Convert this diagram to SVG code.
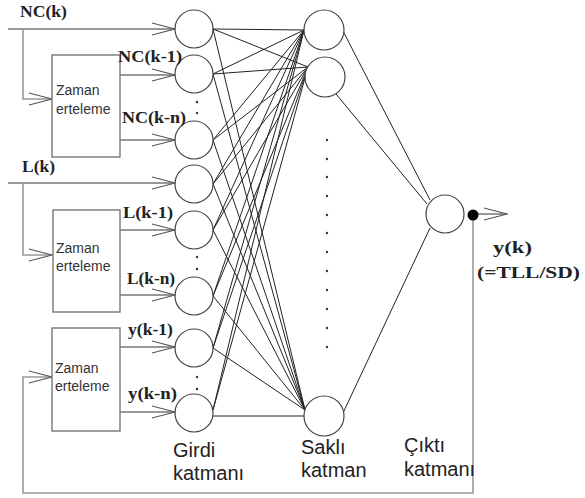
<svg xmlns="http://www.w3.org/2000/svg" width="585" height="498" viewBox="0 0 585 498">
  <defs>
    <marker id="open" markerUnits="userSpaceOnUse" markerWidth="30" markerHeight="16" viewBox="-25 -8 27 16" refX="0" refY="0" orient="auto">
      <path d="M-23,-6 L0,0 L-23,6" fill="none" stroke="#555" stroke-width="1.1"/>
    </marker>
  </defs>
  <style>
    .node { fill: #fff; stroke: #444; stroke-width: 1.2; }
    .box { fill: #fff; stroke: #777; stroke-width: 1.4; }
    .w { stroke: #222; stroke-width: 1; fill: none; }
    .feed { stroke: #999; stroke-width: 1.6; fill: none; }
    .in { stroke: #333; stroke-width: 1.2; fill: none; }
    .lbl { font-family: "Liberation Serif", "Times New Roman", serif; font-weight: bold; font-size: 17px; fill: #222; }
    .dly { font-family: "Liberation Sans", Arial, sans-serif; font-size: 14px; fill: #333; }
    .layer { font-family: "Liberation Sans", Arial, sans-serif; font-size: 20px; fill: #222; }
    .dot { fill: #333; }
  </style>

  <rect width="585" height="498" fill="#fff"/>

  <!-- connectors -->
  <g id="connectors">
    <!-- input layer to hidden layer -->
    <g class="w">
      <path d="M213,29 L304,30 M213,29 L308,67 M213,29 L305,410"/>
      <path d="M213,74 L304,30 M213,74 L308,67 M213,74 L305,410"/>
      <path d="M213,140 L304,30 M213,140 L308,67 M213,140 L305,410"/>
      <path d="M213,184 L304,30 M213,184 L308,67 M213,184 L305,410"/>
      <path d="M213,230 L304,30 M213,230 L308,67 M213,230 L305,410"/>
      <path d="M213,296 L304,30 M213,296 L308,67 M213,296 L305,410"/>
      <path d="M213,348 L304,30 M213,348 L308,67 M213,348 L305,410"/>
      <path d="M213,410 L304,30 M213,410 L308,67 M213,416 L304,416"/>
      <!-- hidden layer to output -->
      <path d="M343,31 L430,200 M336,94 L427,204 M343,413 L430,228"/>
    </g>
    <!-- external inputs -->
    <g class="in">
      <path d="M8,29 L175,29" marker-end="url(#open)"/>
      <path d="M120,75 L175,75" marker-end="url(#open)"/>
      <path d="M120,140 L175,140" marker-end="url(#open)"/>
      <path d="M8,183 L175,183" marker-end="url(#open)"/>
      <path d="M120,230 L175,230" marker-end="url(#open)"/>
      <path d="M120,295 L175,295" marker-end="url(#open)"/>
      <path d="M120,347 L175,347" marker-end="url(#open)"/>
      <path d="M120,412 L175,412" marker-end="url(#open)"/>
    </g>
    <!-- taps into delay blocks and output feedback -->
    <g class="feed">
      <path d="M23,29 L23,99 L52,99" marker-end="url(#open)"/>
      <path d="M23,183 L23,255 L52,255" marker-end="url(#open)"/>
      <path d="M473,215 L473,493 L23,493 L23,377 L52,377" marker-end="url(#open)"/>
    </g>
    <path d="M473,214 L507,214" class="in" marker-end="url(#open)"/>
    <circle cx="473" cy="215" r="5.5" fill="#000"/>
  </g>

  <!-- delay blocks -->
  <g id="delay-nc">
    <rect class="box" x="52" y="55" width="68" height="102"/>
    <text class="dly" x="56" y="95">Zaman</text>
    <text class="dly" x="56" y="114">erteleme</text>
  </g>
  <g id="delay-l">
    <rect class="box" x="53" y="210" width="67" height="102"/>
    <text class="dly" x="56" y="253">Zaman</text>
    <text class="dly" x="56" y="271">erteleme</text>
  </g>
  <g id="delay-y">
    <rect class="box" x="52" y="328" width="68" height="103"/>
    <text class="dly" x="55" y="373">Zaman</text>
    <text class="dly" x="55" y="391">erteleme</text>
  </g>

  <!-- input layer -->
  <g id="in1"><circle class="node" cx="194" cy="29" r="19"/></g>
  <g id="in2"><circle class="node" cx="194" cy="74" r="19"/></g>
  <g id="in3"><circle class="node" cx="194" cy="140" r="19"/></g>
  <g id="in4"><circle class="node" cx="194" cy="184" r="19"/></g>
  <g id="in5"><circle class="node" cx="194" cy="230" r="19"/></g>
  <g id="in6"><circle class="node" cx="194" cy="296" r="19"/></g>
  <g id="in7"><circle class="node" cx="194" cy="348" r="19"/></g>
  <g id="in8"><circle class="node" cx="194" cy="413" r="19"/></g>
  <g id="in-dots" class="dot">
    <circle cx="197" cy="102" r="1.2"/><circle cx="197" cy="113" r="1.2"/>
    <circle cx="197" cy="257" r="1.2"/><circle cx="197" cy="269" r="1.2"/>
    <circle cx="197" cy="377" r="1.2"/><circle cx="197" cy="389" r="1.2"/>
  </g>

  <!-- hidden layer -->
  <g id="h1"><circle class="node" cx="324" cy="30" r="20"/></g>
  <g id="h2"><circle class="node" cx="325" cy="77" r="20"/></g>
  <g id="h3"><circle class="node" cx="324" cy="416" r="20"/></g>
  <g id="hidden-dots" class="dot">
    <circle cx="327" cy="140" r="1.2"/><circle cx="327" cy="159" r="1.2"/>
    <circle cx="327" cy="177" r="1.2"/><circle cx="327" cy="196" r="1.2"/>
    <circle cx="327" cy="215" r="1.2"/><circle cx="327" cy="233" r="1.2"/>
    <circle cx="327" cy="252" r="1.2"/><circle cx="327" cy="271" r="1.2"/>
    <circle cx="327" cy="290" r="1.2"/><circle cx="327" cy="309" r="1.2"/>
    <circle cx="327" cy="328" r="1.2"/><circle cx="327" cy="347" r="1.2"/>
  </g>

  <!-- output layer -->
  <g id="out"><circle class="node" cx="445" cy="214" r="19"/></g>

  <!-- signal labels -->
  <g id="labels">
    <text class="lbl" x="20" y="17" textLength="47" lengthAdjust="spacingAndGlyphs">NC(k)</text>
    <text class="lbl" x="118" y="62" textLength="64" lengthAdjust="spacingAndGlyphs">NC(k-1)</text>
    <text class="lbl" x="122" y="123" textLength="64" lengthAdjust="spacingAndGlyphs">NC(k-n)</text>
    <text class="lbl" x="22" y="172" textLength="33" lengthAdjust="spacingAndGlyphs">L(k)</text>
    <text class="lbl" x="123" y="218" textLength="50" lengthAdjust="spacingAndGlyphs">L(k-1)</text>
    <text class="lbl" x="127" y="284" textLength="48" lengthAdjust="spacingAndGlyphs">L(k-n)</text>
    <text class="lbl" x="128" y="335" textLength="45" lengthAdjust="spacingAndGlyphs">y(k-1)</text>
    <text class="lbl" x="128" y="399" textLength="49" lengthAdjust="spacingAndGlyphs">y(k-n)</text>
    <text class="lbl" x="493" y="253" font-size="20" textLength="39" lengthAdjust="spacingAndGlyphs">y(k)</text>
    <text class="lbl" x="477" y="278" font-size="20" textLength="103" lengthAdjust="spacingAndGlyphs">(=TLL/SD)</text>
  </g>

  <!-- layer captions -->
  <g id="captions">
    <text class="layer" x="173" y="457">Girdi</text>
    <text class="layer" x="173" y="480">katmanı</text>
    <text class="layer" x="301" y="454">Saklı</text>
    <text class="layer" x="301" y="477">katman</text>
    <text class="layer" x="404" y="452">Çıktı</text>
    <text class="layer" x="404" y="476">katmanı</text>
  </g>
</svg>
